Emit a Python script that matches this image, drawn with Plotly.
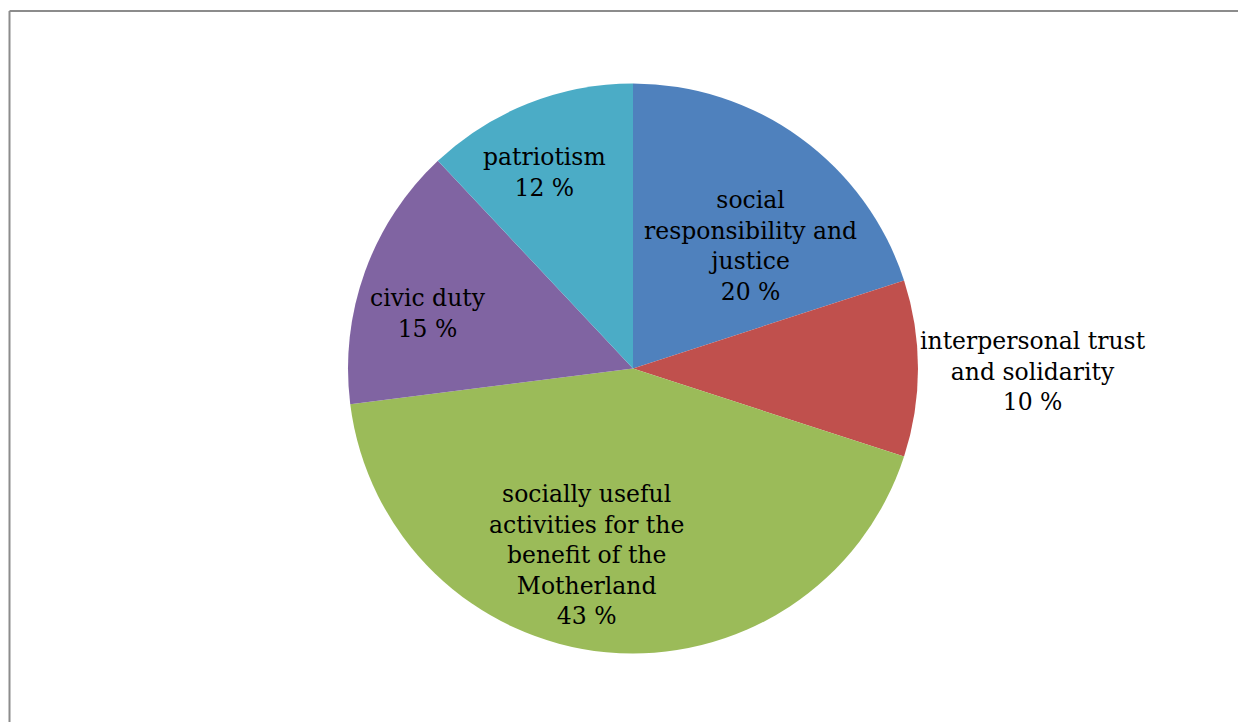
import plotly.graph_objects as go

categories = [
    "social<br>responsibility and<br>justice",
    "interpersonal trust<br>and solidarity",
    "socially useful<br>activities for the<br>benefit of the<br>Motherland",
    "civic duty",
    "patriotism",
]
values = [20, 10, 43, 15, 12]
colors = ["#4F81BD", "#C0504D", "#9BBB59", "#8064A2", "#4BACC6"]

W, H = 1246, 722
off = 8  # page body margin
cx, cy, r = 633 - off, 368.5 - off, 285

fig = go.Figure(go.Pie(
    labels=categories,
    values=values,
    marker=dict(colors=colors, line=dict(width=0)),
    sort=False,
    direction="clockwise",
    rotation=0,
    textinfo="none",
    hoverinfo="none",
    showlegend=False,
    domain=dict(x=[(cx - r) / W, (cx + r) / W], y=[1 - (cy + r) / H, 1 - (cy - r) / H]),
))

# data label placement (pixel centres of each label block, page coordinates)
label_pos = [(751, 246), (1033, 371), (586, 555), (428, 313), (544, 172)]
annotations = []
for lab, val, (px, py) in zip(categories, values, label_pos):
    annotations.append(dict(
        text=f"{lab}<br>{val} %",
        xref="paper", yref="paper",
        x=(px - off) / W, y=1 - (py - off) / H,
        xanchor="center", yanchor="middle",
        showarrow=False, align="center",
        font=dict(family="DejaVu Serif", size=23.5, color="black"),
    ))

bx, by = 9 - off + 0.5, 11 - off
fig.update_layout(
    width=W, height=H,
    margin=dict(l=0, r=0, t=0, b=0),
    paper_bgcolor="white",
    annotations=annotations,
    shapes=[
        dict(type="line", xref="paper", yref="paper", x0=bx / W, x1=1.01, y0=1 - by / H, y1=1 - by / H,
             line=dict(color="#8c8c8c", width=2)),
        dict(type="line", xref="paper", yref="paper", x0=bx / W, x1=bx / W, y0=1 - by / H, y1=-0.01,
             line=dict(color="#8c8c8c", width=2)),
    ],
)

fig.write_html("out.html")
